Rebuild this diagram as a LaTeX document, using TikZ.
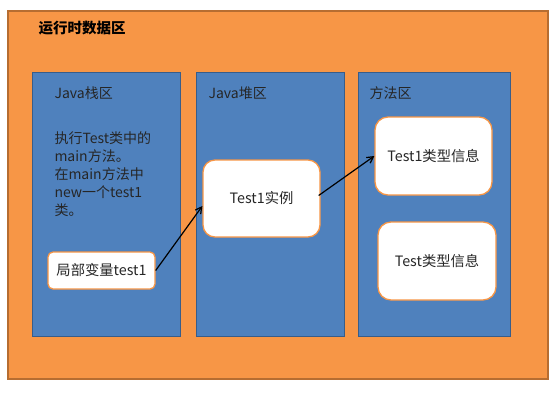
\documentclass[tikz,border=0pt]{standalone}
\usepackage{fontspec}
\setmainfont{Noto Sans CJK SC}
\usepackage{tikz}
\usetikzlibrary{arrows.meta, positioning}
\usepackage{xcolor}
\definecolor{areaorange}{RGB}{247,150,70}
\definecolor{areaedge}{RGB}{182,109,49}
\definecolor{panelblue}{RGB}{79,129,189}
\definecolor{paneledge}{RGB}{56,93,138}
\tikzset{
    % Runtime data area
    areabox/.style={rectangle, draw=areaedge, fill=areaorange, line width=1.5pt,
                minimum width=540pt, minimum height=368pt},
    % Memory panels
    panelbox/.style={rectangle, draw=paneledge, fill=panelblue, line width=1pt,
                minimum width=#1, minimum height=264pt},
    panellbl/.style={anchor=west, font=\fontsize{14pt}{16pt}\selectfont, text=black!85},
    % Content boxes
    infobox/.style={rectangle, rounded corners=#1, draw=areaorange, fill=white,
                line width=1.3pt, align=center, font=\fontsize{14.3pt}{16pt}\selectfont,
                text=black!85},
    iarrow/.style={-{Straight Barb[length=2.2mm, width=2.4mm]}, line width=1.2pt, black},
}
\begin{document}
\begin{tikzpicture}[x=1pt, y=-1pt]
\useasboundingbox (0,0) rectangle (560,400);

\node[areabox] (area) at (278,195) {};
\node[anchor=west, font=\fontsize{14.5pt}{17pt}\selectfont\bfseries] (title) at (35,28) {运行时数据区};

\node[panelbox=148pt] (stack)  at (106,204) {};
\node[panelbox=148pt] (heap)   at (270,204) {};
\node[panelbox=152pt] (method) at (434,204) {};

\node[panellbl] (stacklbl)  at (51,93)  {Java栈区};
\node[panellbl] (heaplbl)   at (205,93) {Java堆区};
\node[panellbl] (methodlbl) at (366,93) {方法区};

\node[panellbl, align=left, font=\fontsize{14pt}{18pt}\selectfont] (note) at (51,174)
    {执行Test类中的\\main方法。\\在main方法中\\new一个test1\\类。};

\node[infobox=5pt, minimum width=107pt, minimum height=37pt] (local) at (101.5,270.5) {局部变量test1};
\node[infobox=12pt, minimum width=117pt, minimum height=77pt] (inst) at (261.5,198.5) {Test1实例};
\node[infobox=13pt, minimum width=117pt, minimum height=78pt] (type1) at (433.5,156) {Test1类型信息};
\node[infobox=13pt, minimum width=118pt, minimum height=78pt] (type) at (437,261) {Test类型信息};

\draw[iarrow] (local.east) -- ([yshift=-7.5pt]inst.west);
\draw[iarrow] ([xshift=-2pt, yshift=3pt]inst.east) -- (type1.west);
\end{tikzpicture}
\end{document}
